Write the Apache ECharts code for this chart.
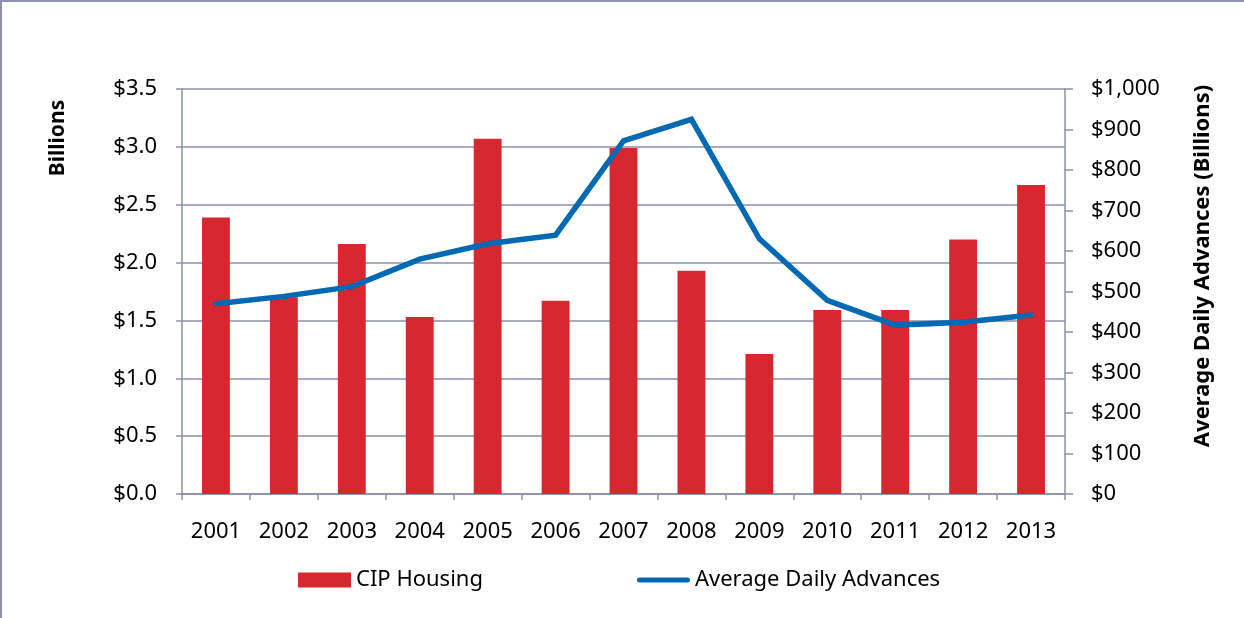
<!DOCTYPE html>
<html>
<head>
<meta charset="utf-8">
<script src="https://cdn.jsdelivr.net/npm/echarts@6/dist/echarts.min.js"></script>
<style>
html,body{margin:0;padding:0;background:#fff;}
#chart{width:1244px;height:618px;}
</style>
</head>
<body>
<div id="chart"></div>
<script>
const years = ['2001','2002','2003','2004','2005','2006','2007','2008','2009','2010','2011','2012','2013'];
const cipHousing = [2.39, 1.70, 2.16, 1.53, 3.07, 1.67, 2.99, 1.93, 1.21, 1.59, 1.59, 2.20, 2.67];
const avgDailyAdvances = [470, 488, 512, 580, 618, 639, 872, 925, 630, 478, 417, 424, 442];
const leftTicks = {min: 0, max: 3.5, interval: 0.5};
const rightTicks = {min: 0, max: 1000, interval: 100};

const FONT = '"Noto Sans", sans-serif';
const GRID = '#8a8fae';
const chart = echarts.init(document.getElementById('chart'), null, {renderer: 'canvas'});
chart.setOption({
  animation: false,
  backgroundColor: '#fff',
  textStyle: {fontFamily: FONT},
  grid: {left: 182, right: 179, top: 89, bottom: 124, containLabel: false},
  graphic: [
    {type: 'rect', shape: {x: 1, y: 1, width: 1400, height: 800}, style: {fill: 'none', stroke: '#8e91b1', lineWidth: 2}},
    {type: 'text', x: 58, y: 138, rotation: Math.PI / 2, style: {text: 'Billions', font: 'bold 21px "Noto Sans"', fill: '#000', align: 'center', verticalAlign: 'middle'}},
    {type: 'text', x: 1203, y: 266, rotation: Math.PI / 2, style: {text: 'Average Daily Advances (Billions)', font: 'bold 22px "Noto Sans"', fill: '#000', align: 'center', verticalAlign: 'middle'}}
  ],
  legend: {
    top: 564, left: 293,
    itemGap: 154,
    itemWidth: 53, itemHeight: 15,
    textStyle: {fontSize: 22, color: '#000', fontFamily: FONT},
    data: [
      {name: 'CIP Housing', icon: 'rect'},
      {name: 'Average Daily Advances', icon: 'path://M2.5,0 L50.5,0 A2.5,2.5 0 0 1 50.5,5 L2.5,5 A2.5,2.5 0 0 1 2.5,0 Z'}
    ]
  },
  xAxis: {
    type: 'category', data: years,
    axisLine: {lineStyle: {color: GRID, width: 1.5}},
    axisTick: {show: true, alignWithLabel: false, length: 6, lineStyle: {color: GRID, width: 1.5}},
    axisLabel: {fontSize: 22, color: '#000', margin: 27, fontFamily: FONT}
  },
  yAxis: [
    {
      type: 'value', min: leftTicks.min, max: leftTicks.max, interval: leftTicks.interval,
      axisLine: {show: true, lineStyle: {color: GRID, width: 1.5}},
      axisTick: {show: true, length: 6, lineStyle: {color: GRID, width: 1.5}},
      splitLine: {show: true, lineStyle: {color: GRID, width: 1.5}},
      axisLabel: {fontSize: 22, color: '#000', margin: 25, fontFamily: FONT, formatter: v => '$' + v.toFixed(1)}
    },
    {
      type: 'value', position: 'right', min: rightTicks.min, max: rightTicks.max, interval: rightTicks.interval,
      axisLine: {show: true, lineStyle: {color: GRID, width: 1.5}},
      axisTick: {show: true, length: 8, lineStyle: {color: GRID, width: 1.5}},
      splitLine: {show: false},
      axisLabel: {fontSize: 22, color: '#000', margin: 26, fontFamily: FONT, formatter: v => '$' + v.toLocaleString('en-US')}
    }
  ],
  series: [
    {
      name: 'CIP Housing', type: 'bar', data: cipHousing, yAxisIndex: 0,
      barWidth: '41%',
      itemStyle: {color: '#d7282f'}
    },
    {
      name: 'Average Daily Advances', type: 'line', data: avgDailyAdvances, yAxisIndex: 1,
      symbol: 'none', showSymbol: false,
      lineStyle: {color: '#0069b4', width: 5.5, cap: 'round', join: 'miter'},
      itemStyle: {color: '#0069b4'}
    }
  ]
});
</script>
</body>
</html>
